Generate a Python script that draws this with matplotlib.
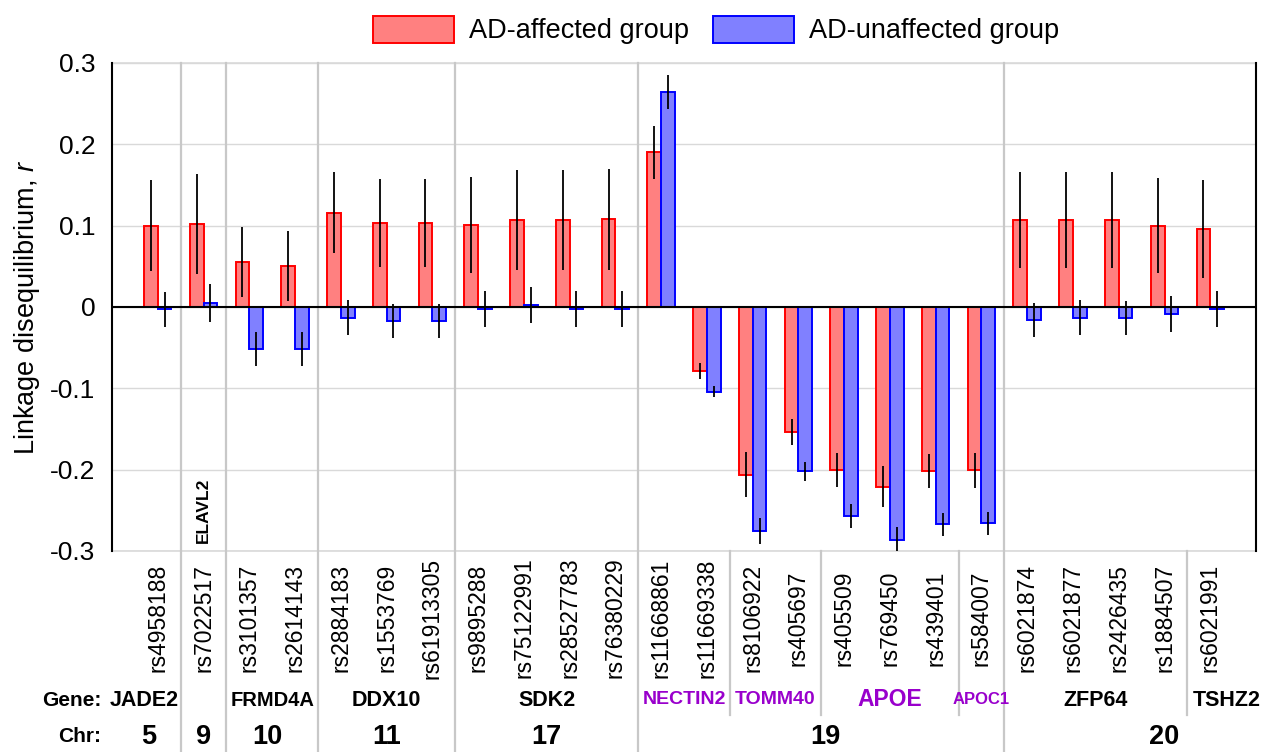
import matplotlib
matplotlib.use("Agg")
import matplotlib.pyplot as plt
import matplotlib.transforms as mtransforms
from matplotlib.patches import Patch
import numpy as np

# ---------------- data ----------------
snps = ['rs4958188', 'rs7022517', 'rs3101357', 'rs2614143', 'rs2884183', 'rs1553769',
        'rs61913305', 'rs9895288', 'rs75122991', 'rs28527783', 'rs76380229',
        'rs11668861', 'rs11669338', 'rs8106922', 'rs405697', 'rs405509', 'rs769450',
        'rs439401', 'rs584007', 'rs6021874', 'rs6021877', 'rs2426435', 'rs1884507',
        'rs6021991']

affected = [0.100, 0.102, 0.055, 0.050, 0.116, 0.103, 0.103, 0.101, 0.107, 0.107, 0.108,
            0.190, -0.079, -0.206, -0.154, -0.200, -0.221, -0.202, -0.201,
            0.107, 0.107, 0.107, 0.100, 0.096]
affected_err = [0.056, 0.062, 0.043, 0.043, 0.050, 0.054, 0.054, 0.059, 0.061, 0.061, 0.062,
                0.033, 0.010, 0.028, 0.016, 0.021, 0.025, 0.021, 0.021,
                0.059, 0.059, 0.059, 0.058, 0.060]
unaffected = [-0.003, 0.005, -0.052, -0.052, -0.013, -0.017, -0.017, -0.002, 0.002, -0.002, -0.002,
              0.264, -0.104, -0.275, -0.202, -0.257, -0.286, -0.267, -0.266,
              -0.016, -0.013, -0.014, -0.009, -0.002]
unaffected_err = [0.022, 0.023, 0.021, 0.021, 0.022, 0.021, 0.021, 0.022, 0.022, 0.022, 0.022,
                  0.021, 0.007, 0.016, 0.012, 0.015, 0.015, 0.014, 0.014,
                  0.021, 0.021, 0.021, 0.022, 0.022]

series_names = ['AD-affected group', 'AD-unaffected group']

# gene groups: (name, first SNP index, last SNP index)
genes = [('JADE2', 0, 0), ('ELAVL2', 1, 1), ('FRMD4A', 2, 3), ('DDX10', 4, 6),
         ('SDK2', 7, 10), ('NECTIN2', 11, 12), ('TOMM40', 13, 14), ('APOE', 15, 17),
         ('APOC1', 18, 18), ('ZFP64', 19, 22), ('TSHZ2', 23, 23)]
chromosomes = [('5', 0, 0), ('9', 1, 1), ('10', 2, 3), ('11', 4, 6), ('17', 7, 10),
               ('19', 11, 18), ('20', 19, 23)]
apoe_region_genes = ['NECTIN2', 'TOMM40', 'APOE', 'APOC1']

yticks = [0.3, 0.2, 0.1, 0, -0.1, -0.2, -0.3]
ytick_labels = ['0.3', '0.2', '0.1', '0', '-0.1', '-0.2', '-0.3']

# ---------------- style ----------------
plt.rcParams['font.family'] = ['Liberation Sans', 'DejaVu Sans']
plt.rcParams['mathtext.fontset'] = 'custom'
plt.rcParams['mathtext.it'] = 'Liberation Sans:italic'
plt.rcParams['mathtext.rm'] = 'Liberation Sans'

RED_FILL, RED_EDGE = '#FF8080', '#FF0000'
BLUE_FILL, BLUE_EDGE = '#8080FF', '#0000FF'
PURPLE = '#9900CC'
SEP = '#C8C8C8'

fig = plt.figure(figsize=(12.63, 7.52), dpi=100)
ax = fig.add_axes([0.08868, 0.26729, 0.9058, 0.64894])

n = len(snps)
x = np.arange(n)
w = 0.3

ax.bar(x - w / 2, affected, w, color=RED_FILL, edgecolor=RED_EDGE, linewidth=1.4, zorder=3)
ax.bar(x + w / 2, unaffected, w, color=BLUE_FILL, edgecolor=BLUE_EDGE, linewidth=1.4, zorder=3)
ax.errorbar(x - w / 2, affected, yerr=affected_err, fmt='none', ecolor='black',
            elinewidth=1.3, capsize=0, zorder=5)
ax.errorbar(x + w / 2, unaffected, yerr=unaffected_err, fmt='none', ecolor='black',
            elinewidth=1.3, capsize=0, zorder=5)

ax.axhline(0, color='black', lw=1.5, zorder=4)

ax.set_xlim(-1, n)
ax.set_ylim(-0.3, 0.3)
ax.set_yticks(yticks)
ax.set_yticklabels(ytick_labels)
ax.tick_params(axis='y', length=0, pad=12, labelsize=19)
ax.set_xticks([])
ax.yaxis.grid(True, color='#D9D9D9', lw=1.0, zorder=0)
ax.set_axisbelow(True)
for s in ['top', 'bottom']:
    ax.spines[s].set_visible(False)
for s in ['left', 'right']:
    ax.spines[s].set_color('black')
    ax.spines[s].set_linewidth(1.5)
# top / bottom grid borders
ax.axhline(0.3, color='#D9D9D9', lw=1.2, zorder=0, clip_on=False)
ax.axhline(-0.3, color='#D9D9D9', lw=1.2, zorder=0, clip_on=False)

ax.set_ylabel('Linkage disequilibrium, $\\it{r}$', fontsize=19.5, labelpad=6)

# separators
btrans = mtransforms.blended_transform_factory(ax.transData, ax.transAxes)
ax_h_px = 488.0
chr_bottom = (551 - 752) / ax_h_px
gene_bottom = (551 - 715) / ax_h_px
chr_bounds = [c[2] + 0.5 for c in chromosomes[:-1]]
gene_bounds = [g[2] + 0.5 for g in genes[:-1] if g[2] + 0.5 not in chr_bounds]
in_plot_bounds = [0.5, 1.5, 3.5, 6.5, 10.5, 18.5]
for b in chr_bounds:
    top = 1.0 if b in in_plot_bounds else 0.0
    ax.plot([b, b], [top, chr_bottom], transform=btrans, color=SEP, lw=1.6,
            clip_on=False, zorder=1)
for b in gene_bounds:
    ax.plot([b, b], [0.0, gene_bottom], transform=btrans, color=SEP, lw=1.6,
            clip_on=False, zorder=1)

# SNP labels
ftrans = mtransforms.blended_transform_factory(ax.transData, fig.transFigure)
for i, s in enumerate(snps):
    ax.text(i, 1 - 618 / 752, s, rotation=90, ha='center', va='center',
            fontsize=16.5, transform=ftrans, clip_on=False)

# gene labels
gene_pos_shift = {'JADE2': -0.3, 'TSHZ2': 0.35}
gene_size = {'NECTIN2': 14, 'TOMM40': 14, 'APOE': 16.5, 'APOC1': 12, 'FRMD4A': 14.5}
gene_y = 1 - 700 / 752
for name, a, b in genes:
    cx = (a + b) / 2 + gene_pos_shift.get(name, 0)
    if name == 'ELAVL2':
        ax.text(cx, -0.25, name, rotation=90, ha='center', va='center',
                fontsize=12.5, fontweight='bold', zorder=6)
        continue
    col = PURPLE if name in apoe_region_genes else 'black'
    ax.text(cx, gene_y, name, ha='center', va='center', transform=ftrans,
            fontsize=gene_size.get(name, 15.5), fontweight='bold', color=col)

chr_pos_shift = {'5': -0.2, '10': -0.1, '19': 0.1, '20': 1.0}
chr_y = 1 - 737 / 752
for name, a, b in chromosomes:
    cx = (a + b) / 2 + chr_pos_shift.get(name, 0)
    ax.text(cx, chr_y, name, ha='center', va='center', transform=ftrans,
            fontsize=19.5, fontweight='bold')

fig.text(42 / 1263, gene_y, 'Gene:', ha='left', va='center', fontsize=15, fontweight='bold')
fig.text(58 / 1263, chr_y, 'Chr:', ha='left', va='center', fontsize=15, fontweight='bold')

# legend
handles = [Patch(facecolor=RED_FILL, edgecolor=RED_EDGE, lw=1.4),
           Patch(facecolor=BLUE_FILL, edgecolor=BLUE_EDGE, lw=1.4)]
fig.legend(handles, series_names, loc='center', bbox_to_anchor=(0.567, 1 - 30 / 752),
           ncol=2, frameon=False, fontsize=19.5, handlelength=3.0, handleheight=1.15,
           handletextpad=0.55, columnspacing=0.9, borderaxespad=0, borderpad=0)

fig.savefig('out.png', dpi=100)
